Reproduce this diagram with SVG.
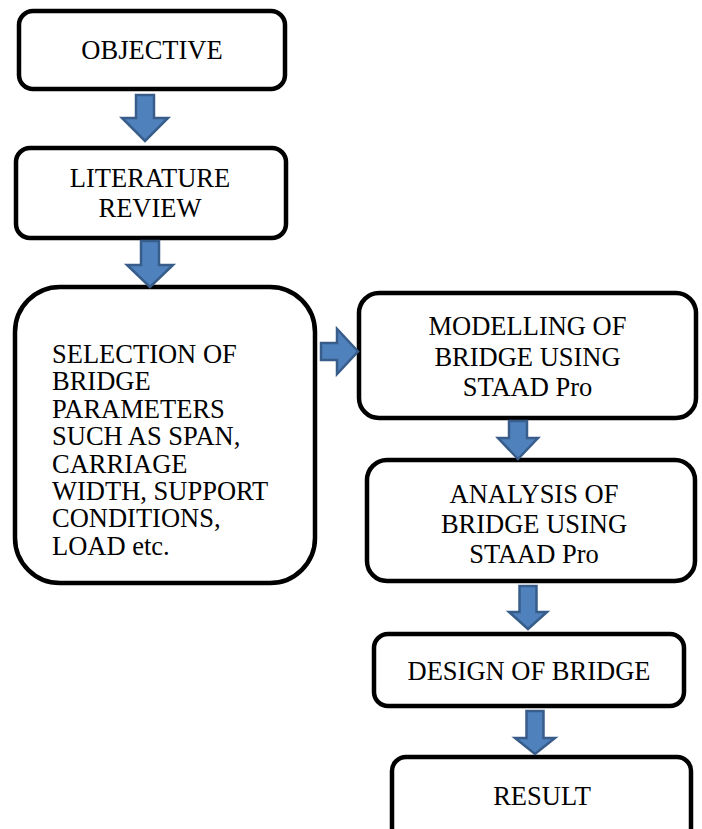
<svg xmlns="http://www.w3.org/2000/svg" width="702" height="829" viewBox="0 0 702 829">
<defs>
<style>
.box{fill:#fff;stroke:#000;stroke-width:4.5}
text{font-family:'Liberation Serif','DejaVu Serif',serif;font-size:26.5px;fill:#000}
.c{text-anchor:middle}
.arr{fill:#4f81bd;stroke:#385d8a;stroke-width:2.5;stroke-linejoin:miter}
</style>
</defs>
<rect width="702" height="829" fill="#fff"/>
<g id="objective">
<rect class="box" x="19" y="11" width="266" height="78" rx="14"/>
<text class="c" x="152" y="59">OBJECTIVE</text>
</g>
<g id="literature">
<rect class="box" x="16" y="148" width="270" height="90" rx="14"/>
<text class="c" x="150" y="187">LITERATURE</text>
<text class="c" x="150" y="217">REVIEW</text>
</g>
<g id="selection">
<rect class="box" x="15" y="287" width="300" height="296" rx="45"/>
<text x="52" y="363">SELECTION OF</text>
<text x="52" y="390.4">BRIDGE</text>
<text x="52" y="417.8">PARAMETERS</text>
<text x="52" y="445.2">SUCH AS SPAN,</text>
<text x="52" y="472.6">CARRIAGE</text>
<text x="52" y="500">WIDTH, SUPPORT</text>
<text x="52" y="527.4">CONDITIONS,</text>
<text x="52" y="554.8">LOAD etc.</text>
</g>
<g id="modelling">
<rect class="box" x="359" y="293" width="337" height="125" rx="20"/>
<text class="c" x="527.5" y="335">MODELLING OF</text>
<text class="c" x="527.5" y="366">BRIDGE USING</text>
<text class="c" x="527.5" y="396">STAAD Pro</text>
</g>
<g id="analysis">
<rect class="box" x="367" y="460" width="328" height="121" rx="20"/>
<text class="c" x="534" y="503">ANALYSIS OF</text>
<text class="c" x="534" y="533">BRIDGE USING</text>
<text class="c" x="534" y="563">STAAD Pro</text>
</g>
<g id="design">
<rect class="box" x="374" y="634" width="310" height="72" rx="14"/>
<text class="c" x="529" y="680">DESIGN OF BRIDGE</text>
</g>
<g id="result">
<rect class="box" x="392" y="757" width="299" height="100" rx="14"/>
<text class="c" x="542" y="805">RESULT</text>
</g>
<g id="connectors">
<path class="arr" d="M136,95 H154 V118 H168 L145,141 L122,118 H136 Z"/>
<path class="arr" d="M141,241 H159 V265 H173 L150,287 L127,265 H141 Z"/>
<path class="arr" d="M321,343 V360 H337 V374 L358,351.5 L337,329 V343 Z"/>
<path class="arr" d="M509,421 H527 V438 H538 L518,459 L498,438 H509 Z"/>
<path class="arr" d="M519.5,586 H536.5 V612 H547 L528,629 L509,612 H519.5 Z"/>
<path class="arr" d="M526.5,711 H543.5 V738 H555 L535,754 L515,738 H526.5 Z"/>
</g>
</svg>
